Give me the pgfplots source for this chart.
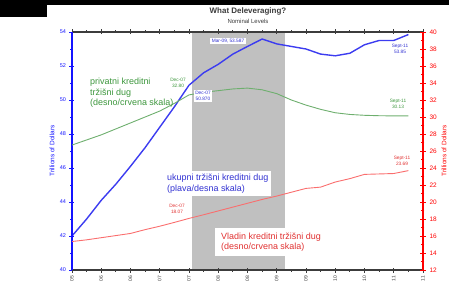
\documentclass[border=0pt]{standalone}
\usepackage{fontspec}
\setmainfont{Liberation Sans}
\usepackage{pgfplots}
\usepackage{pgfplotstable}
\pgfplotsset{compat=1.18}
\definecolor{bl}{RGB}{60,60,240}
\definecolor{blt}{RGB}{50,50,210}
\definecolor{gr}{RGB}{110,175,110}
\definecolor{grt}{RGB}{60,150,60}
\definecolor{rd}{RGB}{250,110,110}
\definecolor{rdt}{RGB}{225,50,50}
\definecolor{rax}{RGB}{255,0,0}
\definecolor{bax}{RGB}{20,20,255}
\definecolor{dk}{RGB}{60,60,60}
\definecolor{recgray}{RGB}{192,192,192}
\newcommand\fs[2]{\fontsize{#1}{#2}\selectfont}
\pgfplotstableread{
m blue green red
0 42.0 26.7 15.35
3 43.0 27.3 15.55
6 44.1 27.9 15.8
9 45.05 28.6 16.05
12 46.1 29.3 16.3
15 47.2 30.0 16.75
18 48.4 30.7 17.15
21 49.6 31.6 17.6
24 50.87 32.6 18.07
27 51.6 32.9 18.5
30 52.1 33.1 18.95
33 52.7 33.3 19.4
36 53.15 33.4 19.85
39 53.587 33.2 20.3
42 53.3 32.75 20.7
45 53.15 32.0 21.15
48 53.0 31.4 21.6
51 52.7 30.9 21.75
54 52.6 30.5 22.35
57 52.75 30.3 22.75
60 53.25 30.2 23.25
63 53.5 30.15 23.3
66 53.5 30.13 23.35
69 53.85 30.13 23.69
}\data
\begin{document}
\begin{tikzpicture}
\path[use as bounding box] (-72bp,-14bp) rectangle (377bp,270bp);
\fill[black] (-72bp,265bp) rectangle (377bp,270bp);
\fill[black] (-72bp,253bp) rectangle (-25bp,270bp);
\begin{axis}[
  at={(0,0)}, anchor=south west,
  scale only axis, width=351bp, height=238bp,
  xmin=0, xmax=72, ymin=40, ymax=54,
  axis x line=box, axis y line*=left,
  axis on top,
  scaled y ticks=false,
  /pgf/number format/assume math mode=true,
  x axis line style={line width=1.6bp, dk, -},
  y axis line style={line width=1.6bp, bax, -},
  xtick={0,6,...,72}, minor xtick={3,9,...,69},
  xticklabels={05,06,06,07,07,08,08,09,09,10,10,11,11},
  xticklabel style={rotate=90, anchor=east, font=\fs{5}{6}, text=dk},
  ytick={40,42,...,54}, minor ytick={41,43,...,53},
  yticklabel style={font=\fs{5.5}{6.5}, text=bax},
  tick align=center, major tick length=5bp, minor tick length=3bp,
  x tick style={dk, line width=0.9bp},
  y tick style={bax, line width=0.9bp},
  ylabel={Trillions of Dollars},
  ylabel style={font=\fs{6.5}{7.5}, text=bax, at={(axis description cs:-0.057,0.5)}, anchor=center},
]
\fill[recgray] (axis cs:24.6,40) rectangle (axis cs:43.7,54);
\addplot[bl, line width=1.4bp, no marks] table[x=m, y=blue] {\data};
\end{axis}
\begin{axis}[
  at={(0,0)}, anchor=south west,
  scale only axis, width=351bp, height=238bp,
  xmin=0, xmax=72, ymin=12, ymax=40,
  axis x line=none, axis y line*=right,
  scaled y ticks=false,
  /pgf/number format/assume math mode=true,
  y axis line style={line width=1.6bp, rax, -},
  ytick={12,14,...,40}, minor ytick={13,15,...,39},
  yticklabel style={font=\fs{6.5}{7.5}, text=rax},
  tick align=center, major tick length=6bp, minor tick length=3bp,
  y tick style={rax, line width=0.9bp},
  ylabel={Trillions of Dollars},
  ylabel style={font=\fs{6.5}{7.5}, text=rax, at={(axis description cs:1.06,0.5)}, anchor=center},
]
\addplot[gr, line width=0.9bp, no marks] table[x=m, y=green] {\data};
\addplot[rd, line width=0.9bp, no marks] table[x=m, y=red] {\data};
\end{axis}
% titles
\node[font=\bfseries\fs{8}{9}, text=dk] at (176bp,258.5bp) {What Deleveraging?};
\node[font=\fs{6}{7}, text=dk] at (176bp,249bp) {Nominal Levels};
% annotations
\node[fill=white, inner xsep=1.5bp, inner ysep=1bp, font=\fs{4.8}{5.5}, text=blt] at (156bp,229bp) {Mar-09, 53.587};
\node[fill=white, inner xsep=1.5bp, inner ysep=1.5bp, align=center, font=\fs{4.8}{6}, text=blt] at (131bp,174bp) {Dec-07\\50.870};
\node[align=center, font=\fs{4.8}{6}, text=grt, inner sep=0pt] at (106bp,187bp) {Dec-07\\32.80};
\node[align=center, font=\fs{4.8}{6}, text=rdt, inner sep=0pt] at (105bp,61bp) {Dec-07\\18.07};
\node[align=center, font=\fs{4.8}{6}, text=blt, inner sep=0pt] at (328bp,221bp) {Sept-11\\53.85};
\node[align=center, font=\fs{4.8}{6}, text=grt, inner sep=0pt] at (326bp,166bp) {Sept-11\\30.13};
\node[align=center, font=\fs{4.8}{6}, text=rdt, inner sep=0pt] at (330bp,109bp) {Sept-11\\23.69};
\node[align=left, anchor=west, font=\fs{9}{10.5}, text=grt, inner sep=0pt] at (18bp,177bp) {privatni kreditni\\tržišni dug\\(desno/crvena skala)};
\node[fill=white, align=left, anchor=west, font=\fs{9}{10.5}, text=blt, inner xsep=3bp, inner ysep=3bp] at (92bp,86.5bp) {ukupni tržišni kreditni dug\\(plava/desna skala)};
\node[fill=white, align=left, anchor=west, font=\fs{9}{10.5}, text=rdt, inner xsep=6bp, inner ysep=5bp] at (143bp,28bp) {Vladin kreditni tržišni dug\\(desno/crvena skala)};
\end{tikzpicture}
\end{document}
